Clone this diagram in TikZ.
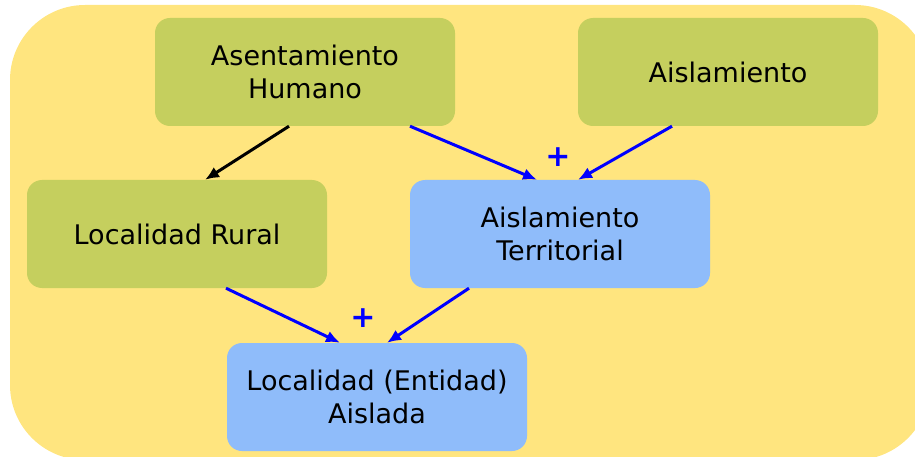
\documentclass[tikz,border=0pt]{standalone}
\usepackage{fontspec}
\setmainfont{DejaVu Sans}
\usetikzlibrary{arrows.meta, positioning}

\definecolor{bgyellow}{RGB}{255,229,127}
\definecolor{boxgreen}{RGB}{197,207,94}
\definecolor{boxblue}{RGB}{143,188,250}

\begin{document}
\begin{tikzpicture}[x=1pt, y=-1pt,
    font = \fontsize{27}{33}\selectfont,
    box/.style = {rounded corners=15pt, minimum width=300pt, minimum height=108pt, align=center, inner sep=0pt},
    greenbox/.style = {box, fill=boxgreen},
    bluebox/.style = {box, fill=boxblue},
    link/.style = {line width=3pt, -{Latex[length=14pt, width=12pt]}},
    plus/.style = {text=blue, font=\fontsize{30}{30}\selectfont\bfseries}]
    \useasboundingbox (0,0) rectangle (915,457);
    \clip (0,0) rectangle (915,457);
    \fill[bgyellow, rounded corners=75pt] (10,5) rectangle (930,460);

    \node[greenbox] (humano) at (305,72) {Asentamiento\\Humano};
    \node[greenbox] (aisl) at (728,72) {Aislamiento};
    \node[greenbox] (rural) at (177,234) {Localidad Rural};
    \node[bluebox] (territorial) at (560,234) {Aislamiento\\Territorial};
    \node[bluebox] (aislada) at (377,397) {Localidad (Entidad)\\Aislada};

    \node[plus] (plus1) at (558,157) {+};
    \node[plus] (plus2) at (363,318) {+};

    \draw[link, black] ([xshift=-16pt]humano.south) -- ([xshift=28pt]rural.north);
    \draw[link, blue] ([xshift=105pt]humano.south) -- ([xshift=-23pt]territorial.north);
    \draw[link, blue] ([xshift=-56pt]aisl.south) -- ([xshift=18pt]territorial.north);
    \draw[link, blue] ([xshift=49pt]rural.south) -- ([xshift=-37pt]aislada.north);
    \draw[link, blue] ([xshift=-91pt]territorial.south) -- ([xshift=10pt]aislada.north);
\end{tikzpicture}
\end{document}
